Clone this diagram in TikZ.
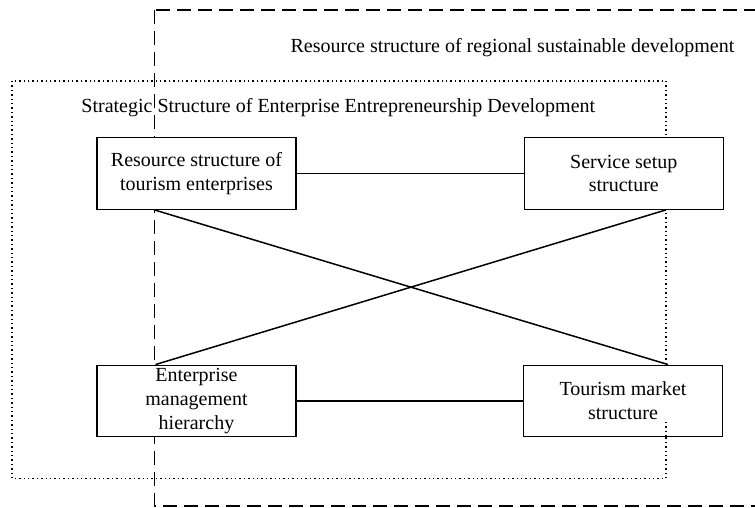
\documentclass[tikz,border=0pt]{standalone}
\usepackage{fontspec}
\setmainfont{Liberation Serif}
\begin{document}
\begin{tikzpicture}[x=1pt,y=-1pt,
  box/.style={draw,line width=1.4pt,fill=white,minimum width=199pt,minimum height=71.5pt,inner sep=0pt,align=center,font=\fontsize{20}{23.8}\selectfont},
  title/.style={inner sep=0pt,font=\fontsize{20}{24}\selectfont},
  link/.style={line width=1.5pt},
  outerframe/.style={line width=1.7pt,dash pattern=on 14pt off 7pt},
  innerframe/.style={line width=1.4pt,dash pattern=on 1.4pt off 3pt}]
\useasboundingbox (0,0) rectangle (755,508);
\begin{scope}
\clip (0,0) rectangle (755,508);
\draw[outerframe] (154.5,10) rectangle (800,506);
\end{scope}
\draw[innerframe] (12,81) rectangle (666,478.5);
\node[title] (t1) at (512.5,48) {Resource structure of regional sustainable development};
\node[title] (t2) at (338.3,108) {Strategic Structure of Enterprise Entrepreneurship Development};
\node[box] (res) at (196.5,173.5) {Resource structure of\\tourism enterprises};
\node[box] (srv) at (623.8,173.5) {Service setup\\structure};
\node[box] (ent) at (196.5,401) {Enterprise\\management\\hierarchy};
\node[box,minimum width=199.4pt] (tou) at (623,401) {Tourism market\\structure};
\draw[innerframe] (666,422) -- (666,436);
\draw[link] (res.east) -- (srv.west);
\draw[link] (ent.east) -- (tou.west);
\coordinate (resb) at ([xshift=-42pt]res.south);
\coordinate (tout) at ([xshift=45pt]tou.north);
\coordinate (entt) at ([xshift=-41pt]ent.north);
\coordinate (srvb) at ([xshift=42pt]srv.south);
\draw[link] (resb) -- (tout);
\draw[link] (entt) -- (srvb);
\end{tikzpicture}
\end{document}
